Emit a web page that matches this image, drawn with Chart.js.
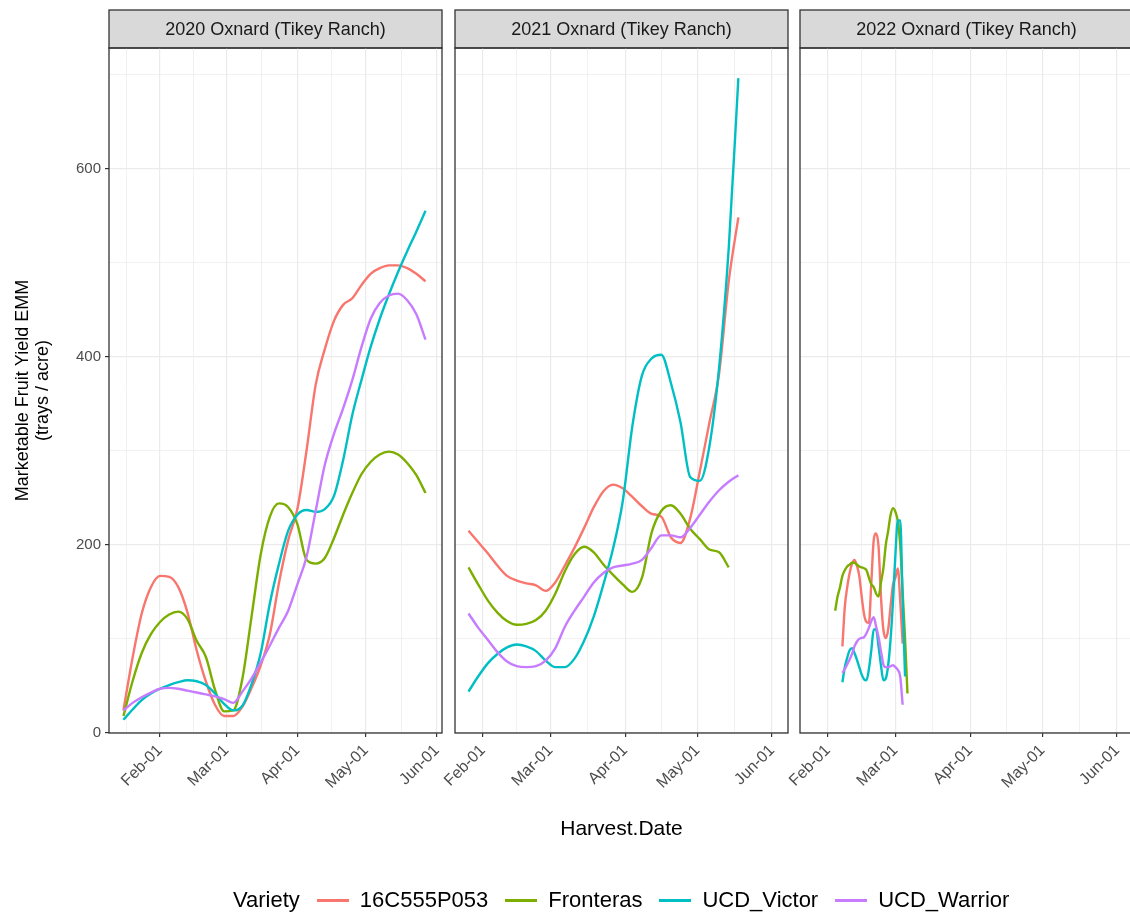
<!DOCTYPE html>
<html>
<head>
<meta charset="utf-8">
<script src="https://cdn.jsdelivr.net/npm/chart.js@4.4.1/dist/chart.umd.min.js"></script>
<style>
  body { margin: 0; background: #fff; width: 1130px; height: 915px; overflow: hidden; position: relative;
         font-family: "Liberation Sans", Arial, sans-serif; }
  canvas { position: absolute; top: 0; }
  #legend { position: absolute; left: 233px; top: 887px; display: flex; align-items: center;
            font-size: 22px; color: #000; white-space: nowrap; }
  #legend .sw { display: inline-block; width: 32px; height: 3px; margin: 0 11px 0 17px; }
</style>
</head>
<body>
<canvas id="p2020" width="452" height="915" style="left:0px"></canvas>
<canvas id="p2021" width="398" height="915" style="left:400px"></canvas>
<canvas id="p2022" width="398" height="915" style="left:745px"></canvas>
<div id="legend"><span>Variety</span></div>

<script>
const varieties = ['16C555P053', 'Fronteras', 'UCD_Victor', 'UCD_Warrior'];
const colors = ['#F8766D', '#7CAE00', '#00BFC4', '#C77CFF'];
const panelTitles = ['2020 Oxnard (Tikey Ranch)', '2021 Oxnard (Tikey Ranch)', '2022 Oxnard (Tikey Ranch)'];

// x values are day of year
const monthLabels = ['Feb-01', 'Mar-01', 'Apr-01', 'May-01', 'Jun-01'];
const monthDays2020 = [32, 61, 92, 122, 153];
const monthDays2021 = [32, 60, 91, 121, 152];
const yTicks = [0, 200, 400, 600];

// 2020
const days2020 = [16, 20, 24, 28, 32, 36, 40, 44, 48, 52, 56, 60, 64, 68, 72, 76, 80, 84, 88, 92,
                  96, 100, 104, 108, 112, 116, 120, 124, 128, 132, 136, 140, 144, 148];
const p053_2020 = [24, 80, 127, 155, 167, 166, 155, 128, 88, 55, 30, 18, 18, 28, 48, 72, 105, 160, 205, 238,
                   300, 370, 408, 438, 455, 462, 476, 488, 494, 497, 497, 494, 488, 480];
const fronteras2020 = [18, 55, 85, 105, 118, 126, 129, 121, 98, 81, 46, 23, 24, 58, 124, 190, 230, 244, 240, 222,
                       184, 180, 186, 207, 232, 255, 275, 288, 296, 299, 296, 287, 274, 255];
const victor2020 = [14, 25, 35, 42, 47, 51, 54, 56, 55, 51, 42, 31, 24, 29, 52, 85, 138, 180, 215, 232,
                    237, 235, 238, 252, 290, 338, 375, 410, 440, 466, 490, 512, 533, 555];
const warrior2020 = [24, 32, 38, 43, 47, 48, 47, 45, 43, 41, 39, 36, 32, 44, 58, 75, 93, 112, 130, 158,
                     187, 236, 285, 318, 345, 375, 410, 440, 457, 465, 467, 460, 445, 418];

// 2021
const days2021 = [26, 30, 34, 38, 42, 46, 50, 54, 58, 62, 66, 70, 74, 78, 82, 86, 90, 94, 98, 102,
                  106, 110, 114, 118, 122, 126, 130, 134, 138];
const p053_2021 = [215, 203, 191, 178, 167, 162, 159, 157, 151, 160, 178, 197, 218, 240, 257, 264, 260, 251, 241, 233,
                   230, 208, 202, 228, 278, 330, 382, 480, 548];
const fronteras2021 = [176, 158, 141, 128, 119, 115, 116, 120, 130, 148, 172, 190, 198, 192, 179, 168, 158, 150, 165, 213,
                       236, 242, 233, 217, 206, 195, 192, 176, null];
const victor2021 = [44, 60, 74, 84, 91, 94, 92, 87, 77, 70, 70, 79, 98, 124, 158, 196, 246, 326, 380, 398,
                    402, 372, 330, 272, 268, 305, 388, 515, 696];
const warrior2021 = [127, 112, 99, 86, 76, 71, 70, 71, 77, 90, 113, 130, 145, 160, 170, 176, 178, 180, 184, 197,
                     210, 210, 208, 218, 232, 246, 258, 267, 274];

// 2022
const days2022 = [35, 36, 37, 38, 39, 40, 41, 42, 43, 44, 45, 46, 47, 48, 49, 50, 51, 52, 53, 54,
                  55, 56, 57, 58, 59, 60, 61, 62, 63, 64, 65];
const p053_2022 = [null, null, null, 92, 134, 155, 170, 180, 184, 178, 167, 145, 126, 118, 117, 160, 205, 212, 198, 145,
                   110, 101, 110, 135, 158, 165, 175, 140, 95, null, null];
const fronteras2022 = [130, 145, 155, 167, 173, 177, 179, 181, 181, 179, 177, 176, 175, 173, 165, 158, 155, 148, 145, 160,
                       175, 200, 215, 232, 239, 235, 225, 200, 150, 100, 42];
const victor2022 = [null, null, null, 54, 70, 80, 88, 90, 85, 78, 70, 62, 57, 56, 68, 88, 110, 110, 92, 72,
                    56, 58, 72, 100, 140, 190, 226, 226, 140, 60, null];
const warrior2022 = [null, null, null, 64, 68, 73, 78, 84, 92, 97, 100, 101, 102, 106, 112, 119, 123, 113, 102, 87,
                     73, 70, 70, 71, 72, 70, 67, 60, 30, null, null];

const FONT = "'Liberation Sans', Arial, sans-serif";

const stripPlugin = {
    id: 'strip',
    beforeDraw(chart, args, opts) {
        const { ctx, chartArea: a } = chart;
        ctx.save();
        ctx.fillStyle = '#d9d9d9';
        ctx.fillRect(a.left, 10, a.right - a.left, a.top - 10);
        ctx.strokeStyle = '#333333';
        ctx.lineWidth = 1.3;
        ctx.strokeRect(a.left, 10, a.right - a.left, a.top - 10);
        ctx.fillStyle = '#1a1a1a';
        ctx.font = '18px ' + FONT;
        ctx.textAlign = 'center';
        ctx.textBaseline = 'middle';
        ctx.fillText(opts.text, (a.left + a.right) / 2, (10 + a.top) / 2 + 1);
        ctx.restore();
    },
    afterDraw(chart) {
        const { ctx, chartArea: a } = chart;
        ctx.save();
        ctx.strokeStyle = '#333333';
        ctx.lineWidth = 1.3;
        ctx.strokeRect(a.left, a.top, a.right - a.left, a.bottom - a.top);
        ctx.restore();
    }
};

function buildDatasets(days, series) {
    return series.map((vals, i) => ({
        label: varieties[i],
        data: days.map((d, j) => ({ x: d, y: vals[j] })),
        borderColor: colors[i],
        backgroundColor: colors[i],
        borderWidth: 2.4,
        pointRadius: 0,
        cubicInterpolationMode: 'monotone',
        order: series.length - i
    }));
}

function minorBetween(majors) {
    const out = [majors[0] - (majors[1] - majors[0]) / 2];
    for (let i = 0; i < majors.length - 1; i++) out.push((majors[i] + majors[i + 1]) / 2);
    return out;
}

function createPanel(canvasId, p) {
    const majors = p.monthDays;
    const minors = minorBetween(majors);
    const isMajorX = v => majors.includes(v);
    const isMajorY = v => yTicks.includes(v);

    const ctx = document.getElementById(canvasId).getContext('2d');
    return new Chart(ctx, {
        type: 'line',
        data: { datasets: buildDatasets(p.days, p.series) },
        options: {
            responsive: false,
            animation: false,
            layout: { padding: { top: 48, bottom: 72, left: p.padLeft, right: 10 } },
            plugins: {
                legend: { display: false },
                tooltip: { enabled: false },
                strip: { text: p.title }
            },
            scales: {
                x: {
                    type: 'linear',
                    min: p.xmin,
                    max: p.xmax,
                    afterBuildTicks: axis => {
                        axis.ticks = majors.concat(minors)
                            .filter(v => v >= p.xmin && v <= p.xmax)
                            .sort((a, b) => a - b)
                            .map(v => ({ value: v }));
                    },
                    afterFit: s => { s.height = 110; s.paddingLeft = 0; s.paddingRight = 0; },
                    ticks: {
                        autoSkip: false,
                        minRotation: 45,
                        maxRotation: 45,
                        padding: 4,
                        color: '#4d4d4d',
                        font: { size: 16, family: FONT },
                        callback: v => isMajorX(v) ? monthLabels[majors.indexOf(v)] : ''
                    },
                    grid: {
                        color: '#ebebeb',
                        lineWidth: c => (c.tick && isMajorX(c.tick.value)) ? 1.2 : 0.7,
                        tickLength: 4,
                        tickWidth: 1.2,
                        tickColor: c => (c.tick && isMajorX(c.tick.value)) ? '#333333' : 'rgba(0,0,0,0)'
                    },
                    border: { display: false },
                    title: {
                        display: !!p.xTitle,
                        text: p.xTitle || '',
                        color: '#000',
                        font: { size: 21, family: FONT },
                        padding: { top: 0, bottom: 1 }
                    }
                },
                y: {
                    min: 0,
                    max: 728,
                    afterBuildTicks: axis => {
                        axis.ticks = [0, 100, 200, 300, 400, 500, 600, 700].map(v => ({ value: v }));
                    },
                    afterFit: s => { s.width = p.yWidth; s.paddingTop = 0; s.paddingBottom = 0; },
                    ticks: {
                        display: p.showY,
                        padding: 4,
                        color: '#4d4d4d',
                        font: { size: 15, family: FONT },
                        callback: v => isMajorY(v) ? String(v) : ''
                    },
                    grid: {
                        color: '#ebebeb',
                        lineWidth: c => (c.tick && isMajorY(c.tick.value)) ? 1.2 : 0.7,
                        drawTicks: p.showY,
                        tickLength: 4,
                        tickWidth: 1.2,
                        tickColor: c => (c.tick && isMajorY(c.tick.value)) ? '#333333' : 'rgba(0,0,0,0)'
                    },
                    border: { display: false },
                    title: {
                        display: p.showY,
                        text: ['Marketable Fruit Yield EMM', '(trays / acre)'],
                        color: '#000',
                        font: { size: 18, family: FONT, lineHeight: 1.12 },
                        padding: { top: 13, bottom: 0 }
                    }
                }
            }
        },
        plugins: [stripPlugin]
    });
}

document.addEventListener('DOMContentLoaded', function () {
    createPanel('p2020', {
        title: panelTitles[0], days: days2020, monthDays: monthDays2020,
        series: [p053_2020, fronteras2020, victor2020, warrior2020],
        xmin: 9.7, xmax: 155.2, padLeft: 0, yWidth: 109, showY: true
    });
    createPanel('p2021', {
        title: panelTitles[1], days: days2021, monthDays: monthDays2021,
        series: [p053_2021, fronteras2021, victor2021, warrior2021],
        xmin: 20.4, xmax: 158.6, padLeft: 55, yWidth: 0, showY: false, xTitle: 'Harvest.Date'
    });
    createPanel('p2022', {
        title: panelTitles[2], days: days2022, monthDays: monthDays2021,
        series: [p053_2022, fronteras2022, victor2022, warrior2022],
        xmin: 20.4, xmax: 158.6, padLeft: 55, yWidth: 0, showY: false
    });

    const legend = document.getElementById('legend');
    varieties.forEach((name, i) => {
        const sw = document.createElement('span');
        sw.className = 'sw';
        sw.style.background = colors[i];
        const lab = document.createElement('span');
        lab.textContent = name;
        legend.appendChild(sw);
        legend.appendChild(lab);
    });
});
</script>
</body>
</html>
